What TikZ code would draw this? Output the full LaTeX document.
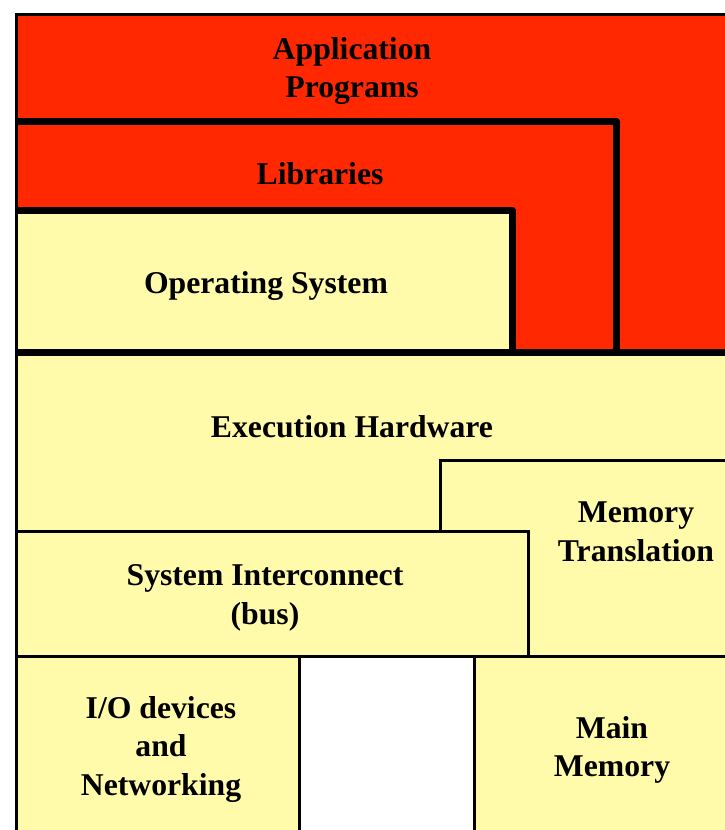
\documentclass[tikz,border=0pt]{standalone}
\usepackage{fontspec}
\setmainfont{Liberation Serif}
\usepackage{tikz}
\usetikzlibrary{positioning}
\definecolor{layerred}{RGB}{255,40,0}
\definecolor{layeryellow}{RGB}{255,251,170}
\tikzset{label/.style = {align=center,font=\bfseries\fontsize{31.7}{38.5}\selectfont,inner sep=0pt},
         thick line/.style = {line width=7pt,line join=round},
         thin box/.style = {draw,fill=layeryellow,line width=3pt}}

\begin{document}
\begin{tikzpicture}[x=1pt,y=-1pt]
        \useasboundingbox (0,0) rectangle (725,830);
        \clip (0,0) rectangle (725,830);
        % software layers
        \fill [layerred] (16,14) rectangle (740,352);
        \fill [layeryellow] (16,210) rectangle (512,352);
        \draw [thick line] (16,121) -- (616,121) -- (616,356);
        \draw [thick line] (16,210) -- (512,210) -- (512,356);
        % hardware layers
        \fill [layeryellow] (16,352) rectangle (740,840);
        \draw [thin box] (440,460) rectangle (740,656);
        \draw [thin box] (16,531) rectangle (528,656);
        \draw [thin box] (16,656) rectangle (299,840);
        \draw [thin box] (474,656) rectangle (740,840);
        \fill [white] (300.5,657.5) rectangle (472.5,840);
        \draw [thick line] (16,352) -- (740,352);
        \draw [line width=3pt] (16,840) -- (16,14) -- (740,14);
        \node [label] (app) at (352,71) {Application\\Programs};
        \node [label] (lib) at (320,174) {Libraries};
        \node [label] (os) at (266,286) {Operating System};
        \node [label] (exec) at (352,427) {Execution Hardware};
        \node [label] (mt) at (636,532) {Memory\\Translation};
        \node [label] (bus) at (265,598) {System Interconnect\\(bus)};
        \node [label] (io) at (161,749) {I/O devices\\and\\Networking};
        \node [label] (mem) at (612,750) {Main\\Memory};
    \end{tikzpicture}
\end{document}
